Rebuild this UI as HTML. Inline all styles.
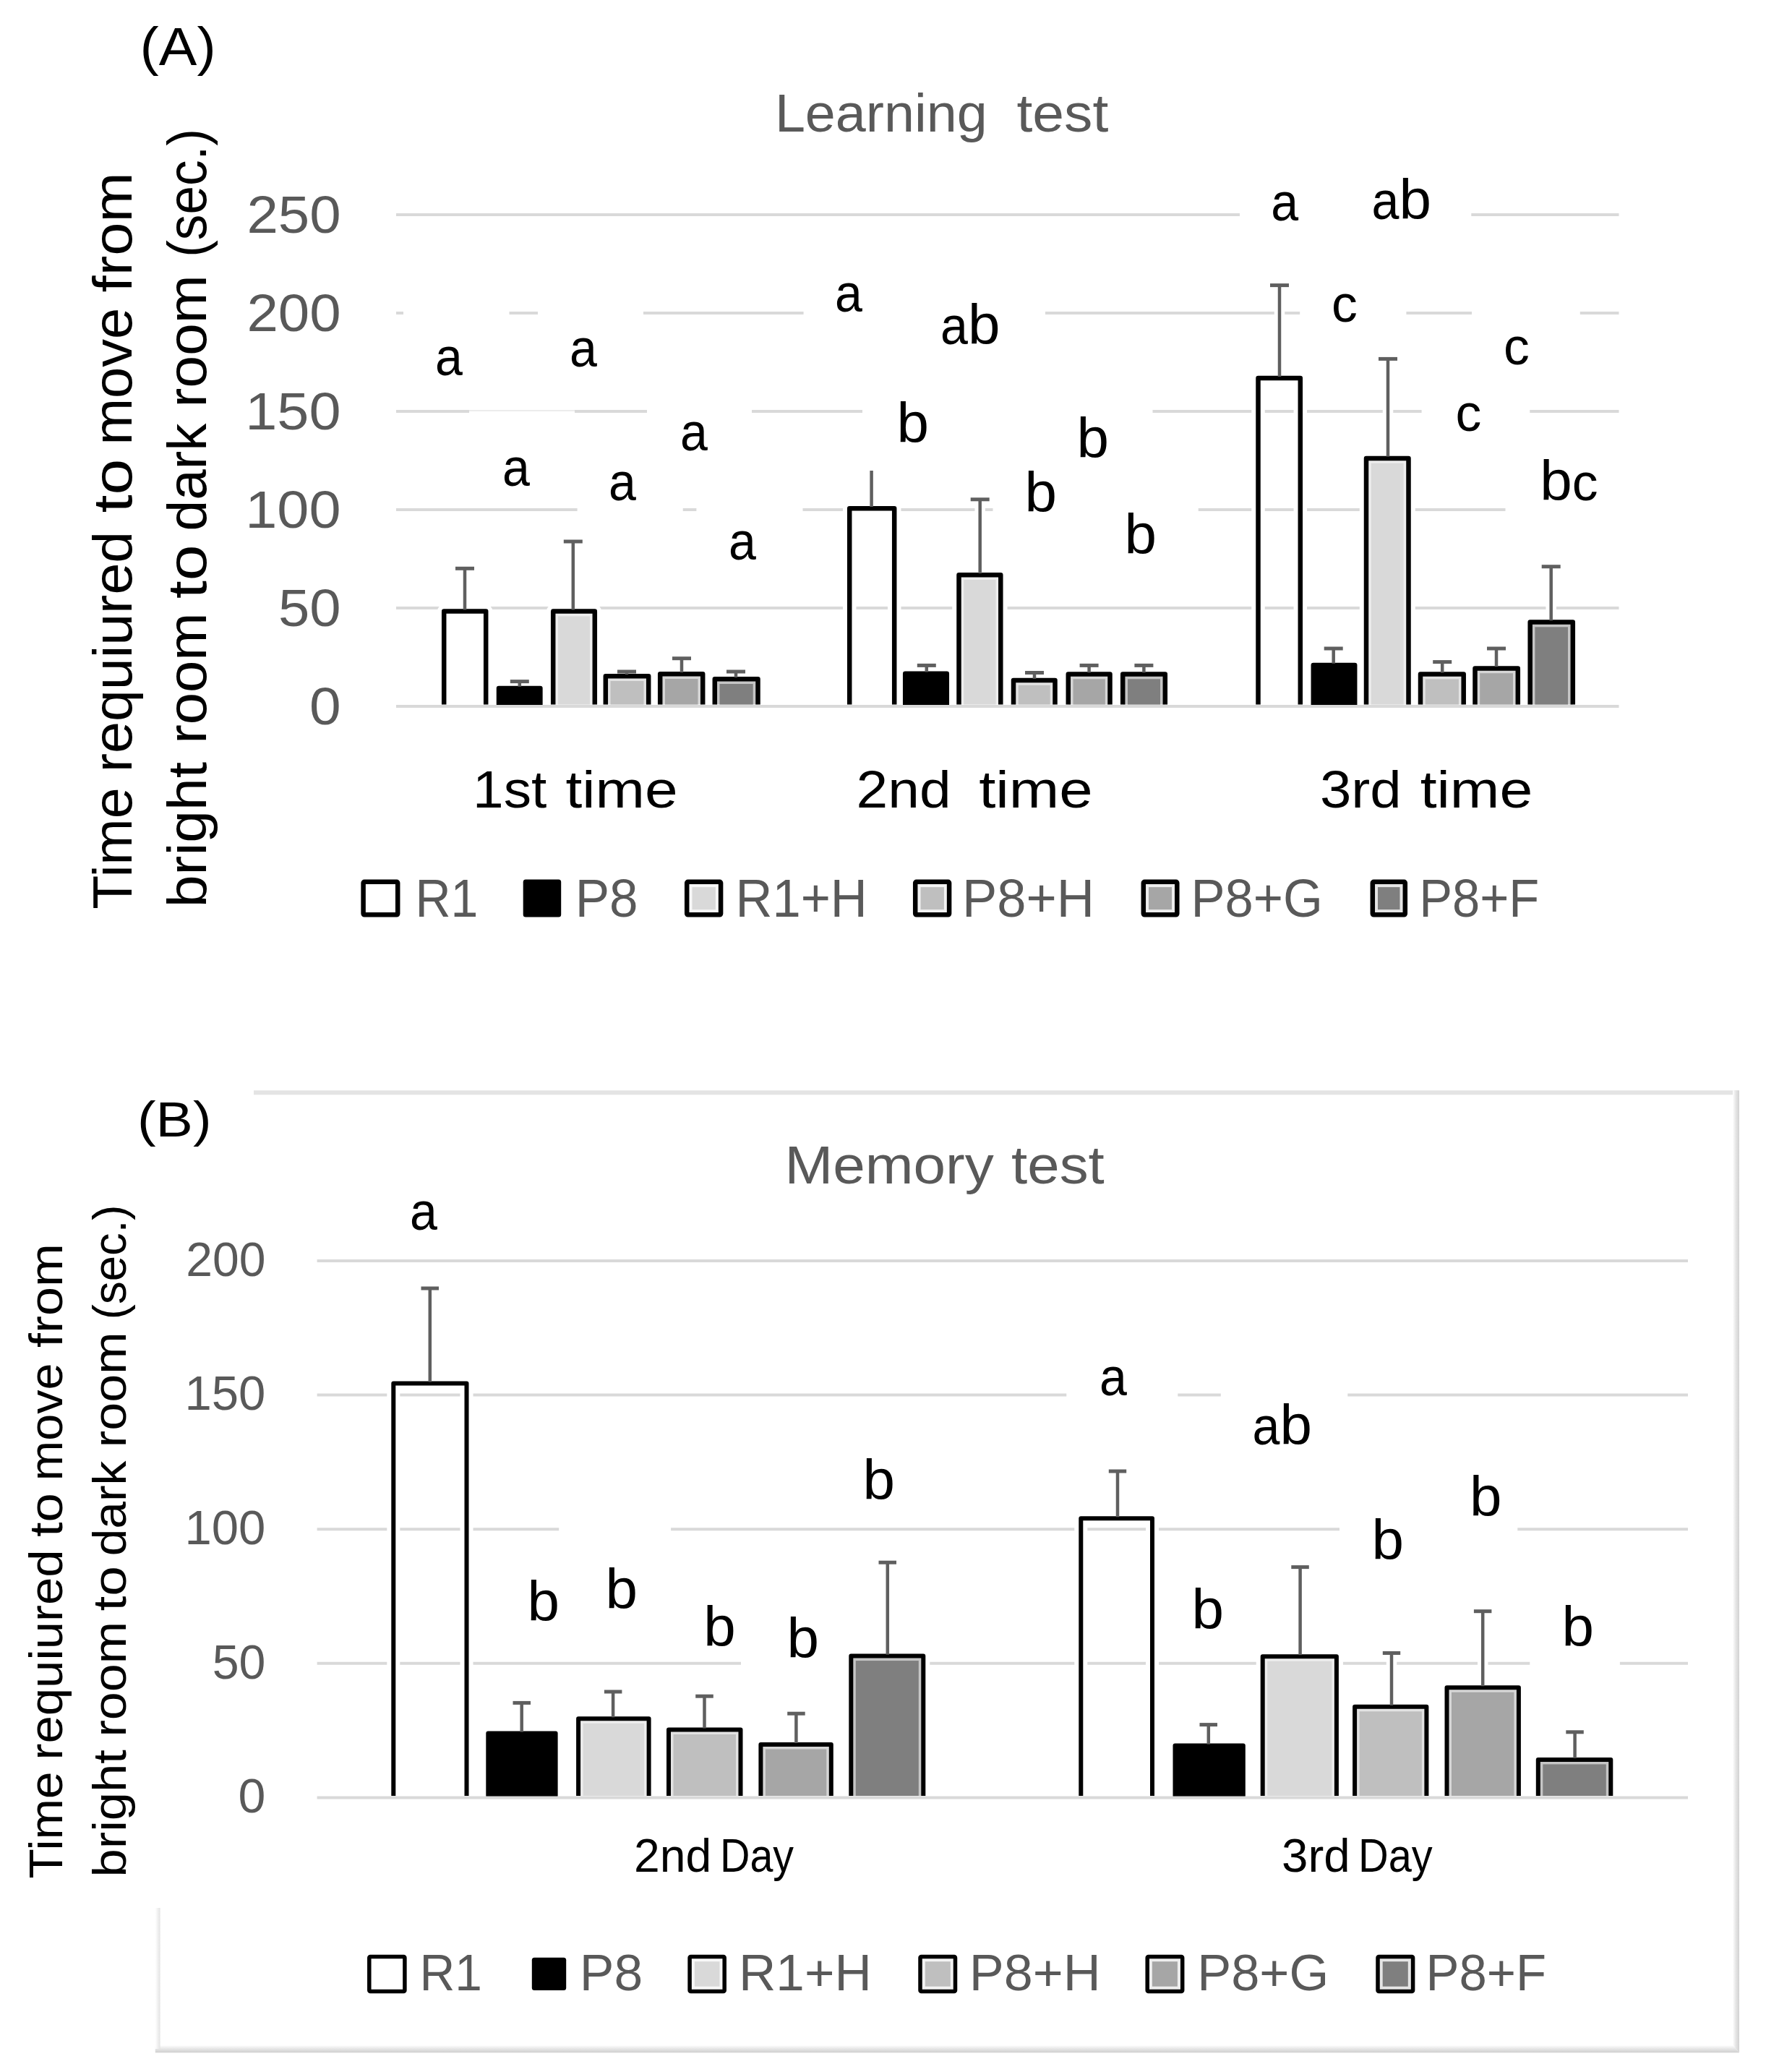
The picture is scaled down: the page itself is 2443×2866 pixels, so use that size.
<!DOCTYPE html>
<html lang="en"><head><meta charset="utf-8"><title>Learning test and Memory test</title>
<style>
html,body{margin:0;padding:0;background:#fff;}
body{width:2443px;height:2866px;overflow:hidden;}
svg{display:block;}
svg text{font-family:"Liberation Sans", sans-serif;white-space:pre;}
</style></head><body>
<svg width="2443" height="2866" viewBox="0 0 2443 2866">
<rect width="2443" height="2866" fill="#fff"/>
<line x1="548.0" y1="297.0" x2="1715.0" y2="297.0" stroke="#d9d9d9" stroke-width="4"/>
<line x1="2035.3" y1="297.0" x2="2239.5" y2="297.0" stroke="#d9d9d9" stroke-width="4"/>
<line x1="548.0" y1="433.0" x2="558.0" y2="433.0" stroke="#d9d9d9" stroke-width="4"/>
<line x1="704.5" y1="433.0" x2="744.0" y2="433.0" stroke="#d9d9d9" stroke-width="4"/>
<line x1="890.0" y1="433.0" x2="1111.6" y2="433.0" stroke="#d9d9d9" stroke-width="4"/>
<line x1="1446.0" y1="433.0" x2="1798.2" y2="433.0" stroke="#d9d9d9" stroke-width="4"/>
<line x1="1945.4" y1="433.0" x2="2036.0" y2="433.0" stroke="#d9d9d9" stroke-width="4"/>
<line x1="2185.8" y1="433.0" x2="2239.5" y2="433.0" stroke="#d9d9d9" stroke-width="4"/>
<line x1="548.0" y1="569.0" x2="649.0" y2="569.0" stroke="#d9d9d9" stroke-width="4"/>
<line x1="795.0" y1="569.0" x2="895.0" y2="569.0" stroke="#d9d9d9" stroke-width="4"/>
<line x1="1040.0" y1="569.0" x2="1193.0" y2="569.0" stroke="#d9d9d9" stroke-width="4"/>
<line x1="1594.5" y1="569.0" x2="1966.6" y2="569.0" stroke="#d9d9d9" stroke-width="4"/>
<line x1="2116.3" y1="569.0" x2="2239.5" y2="569.0" stroke="#d9d9d9" stroke-width="4"/>
<line x1="548.0" y1="705.0" x2="798.6" y2="705.0" stroke="#d9d9d9" stroke-width="4"/>
<line x1="944.7" y1="705.0" x2="963.4" y2="705.0" stroke="#d9d9d9" stroke-width="4"/>
<line x1="1110.5" y1="705.0" x2="1373.5" y2="705.0" stroke="#d9d9d9" stroke-width="4"/>
<line x1="1657.7" y1="705.0" x2="2082.5" y2="705.0" stroke="#d9d9d9" stroke-width="4"/>
<line x1="548.0" y1="841.0" x2="2239.5" y2="841.0" stroke="#d9d9d9" stroke-width="4"/>
<line x1="649.0" y1="568.0" x2="795.0" y2="568.0" stroke="#ececec" stroke-width="2"/>
<path d="M614.2 974.5V845.6H672.2V974.5" fill="none" stroke="#fff" stroke-width="18.5" stroke-linejoin="round"/>
<path d="M690.0 974.5V952.0H747.4V974.5" fill="none" stroke="#fff" stroke-width="18.5" stroke-linejoin="round"/>
<path d="M765.2 974.5V845.6H822.8V974.5" fill="none" stroke="#fff" stroke-width="18.5" stroke-linejoin="round"/>
<path d="M837.8 974.5V935.2H897.2V974.5" fill="none" stroke="#fff" stroke-width="18.5" stroke-linejoin="round"/>
<path d="M913.2 974.5V932.2H972.2V974.5" fill="none" stroke="#fff" stroke-width="18.5" stroke-linejoin="round"/>
<path d="M988.8 974.5V939.2H1048.5V974.5" fill="none" stroke="#fff" stroke-width="18.5" stroke-linejoin="round"/>
<line x1="643.0" y1="781.3" x2="643.0" y2="842.4" stroke="#fff" stroke-width="14.5"/>
<line x1="625.0" y1="786.3" x2="661.0" y2="786.3" stroke="#fff" stroke-width="15"/>
<line x1="718.8" y1="937.6" x2="718.8" y2="948.7" stroke="#fff" stroke-width="14.5"/>
<line x1="700.8" y1="942.6" x2="736.8" y2="942.6" stroke="#fff" stroke-width="15"/>
<line x1="792.8" y1="744.0" x2="792.8" y2="842.4" stroke="#fff" stroke-width="14.5"/>
<line x1="774.8" y1="749.0" x2="810.8" y2="749.0" stroke="#fff" stroke-width="15"/>
<line x1="867.0" y1="924.0" x2="867.0" y2="932.0" stroke="#fff" stroke-width="14.5"/>
<line x1="849.0" y1="929.0" x2="885.0" y2="929.0" stroke="#fff" stroke-width="15"/>
<line x1="943.0" y1="905.7" x2="943.0" y2="929.0" stroke="#fff" stroke-width="14.5"/>
<line x1="925.0" y1="910.7" x2="961.0" y2="910.7" stroke="#fff" stroke-width="15"/>
<line x1="1018.0" y1="924.0" x2="1018.0" y2="936.0" stroke="#fff" stroke-width="14.5"/>
<line x1="1000.0" y1="929.0" x2="1036.0" y2="929.0" stroke="#fff" stroke-width="15"/>
<path d="M1175.2 974.5V703.2H1237.2V974.5" fill="none" stroke="#fff" stroke-width="18.5" stroke-linejoin="round"/>
<path d="M1252.2 974.5V931.8H1309.8V974.5" fill="none" stroke="#fff" stroke-width="18.5" stroke-linejoin="round"/>
<path d="M1326.5 974.5V795.2H1384.3V974.5" fill="none" stroke="#fff" stroke-width="18.5" stroke-linejoin="round"/>
<path d="M1402.0 974.5V941.0H1459.5V974.5" fill="none" stroke="#fff" stroke-width="18.5" stroke-linejoin="round"/>
<path d="M1477.8 974.5V932.5H1535.5V974.5" fill="none" stroke="#fff" stroke-width="18.5" stroke-linejoin="round"/>
<path d="M1553.2 974.5V932.5H1611.8V974.5" fill="none" stroke="#fff" stroke-width="18.5" stroke-linejoin="round"/>
<line x1="1205.6" y1="646.0" x2="1205.6" y2="700.0" stroke="#fff" stroke-width="14.5"/>
<line x1="1281.8" y1="915.4" x2="1281.8" y2="928.5" stroke="#fff" stroke-width="14.5"/>
<line x1="1263.8" y1="920.4" x2="1299.8" y2="920.4" stroke="#fff" stroke-width="15"/>
<line x1="1355.7" y1="685.8" x2="1355.7" y2="792.0" stroke="#fff" stroke-width="14.5"/>
<line x1="1337.7" y1="690.8" x2="1373.7" y2="690.8" stroke="#fff" stroke-width="15"/>
<line x1="1431.0" y1="925.5" x2="1431.0" y2="937.8" stroke="#fff" stroke-width="14.5"/>
<line x1="1413.0" y1="930.5" x2="1449.0" y2="930.5" stroke="#fff" stroke-width="15"/>
<line x1="1506.6" y1="915.4" x2="1506.6" y2="929.3" stroke="#fff" stroke-width="14.5"/>
<line x1="1488.6" y1="920.4" x2="1524.6" y2="920.4" stroke="#fff" stroke-width="15"/>
<line x1="1582.4" y1="915.4" x2="1582.4" y2="929.3" stroke="#fff" stroke-width="14.5"/>
<line x1="1564.4" y1="920.4" x2="1600.4" y2="920.4" stroke="#fff" stroke-width="15"/>
<path d="M1740.5 974.5V523.1H1798.8V974.5" fill="none" stroke="#fff" stroke-width="18.5" stroke-linejoin="round"/>
<path d="M1816.8 974.5V920.0H1874.2V974.5" fill="none" stroke="#fff" stroke-width="18.5" stroke-linejoin="round"/>
<path d="M1890.0 974.5V633.9H1948.5V974.5" fill="none" stroke="#fff" stroke-width="18.5" stroke-linejoin="round"/>
<path d="M1965.0 974.5V932.6H2024.7V974.5" fill="none" stroke="#fff" stroke-width="18.5" stroke-linejoin="round"/>
<path d="M2040.5 974.5V924.5H2099.8V974.5" fill="none" stroke="#fff" stroke-width="18.5" stroke-linejoin="round"/>
<path d="M2116.7 974.5V860.5H2175.8V974.5" fill="none" stroke="#fff" stroke-width="18.5" stroke-linejoin="round"/>
<line x1="1770.0" y1="389.6" x2="1770.0" y2="519.9" stroke="#fff" stroke-width="14.5"/>
<line x1="1752.0" y1="394.6" x2="1788.0" y2="394.6" stroke="#fff" stroke-width="15"/>
<line x1="1844.7" y1="892.0" x2="1844.7" y2="916.7" stroke="#fff" stroke-width="14.5"/>
<line x1="1826.7" y1="897.0" x2="1862.7" y2="897.0" stroke="#fff" stroke-width="15"/>
<line x1="1920.0" y1="491.4" x2="1920.0" y2="630.6" stroke="#fff" stroke-width="14.5"/>
<line x1="1902.0" y1="496.4" x2="1938.0" y2="496.4" stroke="#fff" stroke-width="15"/>
<line x1="1995.2" y1="910.6" x2="1995.2" y2="929.4" stroke="#fff" stroke-width="14.5"/>
<line x1="1977.2" y1="915.6" x2="2013.2" y2="915.6" stroke="#fff" stroke-width="15"/>
<line x1="2070.0" y1="892.0" x2="2070.0" y2="921.2" stroke="#fff" stroke-width="14.5"/>
<line x1="2052.0" y1="897.0" x2="2088.0" y2="897.0" stroke="#fff" stroke-width="15"/>
<line x1="2145.7" y1="778.7" x2="2145.7" y2="857.3" stroke="#fff" stroke-width="14.5"/>
<line x1="2127.7" y1="783.7" x2="2163.7" y2="783.7" stroke="#fff" stroke-width="15"/>
<path d="M614.2 974.5V845.6H672.2V974.5" fill="none" stroke="#000" stroke-width="6.5" stroke-linejoin="round"/>
<path d="M690.0 974.5V952.0H747.4V974.5Z" fill="#000" stroke="#000" stroke-width="6.5" stroke-linejoin="round"/>
<rect x="765.2" y="845.6" width="57.5" height="128.9" fill="#ededed"/>
<rect x="772.0" y="852.4" width="44.0" height="122.1" fill="#d9d9d9"/>
<path d="M765.2 974.5V845.6H822.8V974.5" fill="none" stroke="#000" stroke-width="6.5" stroke-linejoin="round"/>
<rect x="837.8" y="935.2" width="59.5" height="39.2" fill="#e2e2e2"/>
<rect x="844.5" y="942.0" width="46.0" height="32.5" fill="#bfbfbf"/>
<path d="M837.8 974.5V935.2H897.2V974.5" fill="none" stroke="#000" stroke-width="6.5" stroke-linejoin="round"/>
<rect x="913.2" y="932.2" width="59.0" height="42.2" fill="#d6d6d6"/>
<rect x="920.0" y="939.0" width="45.5" height="35.5" fill="#a6a6a6"/>
<path d="M913.2 974.5V932.2H972.2V974.5" fill="none" stroke="#000" stroke-width="6.5" stroke-linejoin="round"/>
<rect x="988.8" y="939.2" width="59.7" height="35.2" fill="#c5c5c5"/>
<rect x="995.5" y="946.0" width="46.2" height="28.5" fill="#7f7f7f"/>
<path d="M988.8 974.5V939.2H1048.5V974.5" fill="none" stroke="#000" stroke-width="6.5" stroke-linejoin="round"/>
<line x1="643.0" y1="786.3" x2="643.0" y2="843.4" stroke="#5f5f5f" stroke-width="4.5"/>
<line x1="630.0" y1="786.3" x2="656.0" y2="786.3" stroke="#5f5f5f" stroke-width="5"/>
<line x1="718.8" y1="942.6" x2="718.8" y2="949.7" stroke="#5f5f5f" stroke-width="4.5"/>
<line x1="705.8" y1="942.6" x2="731.8" y2="942.6" stroke="#5f5f5f" stroke-width="5"/>
<line x1="792.8" y1="749.0" x2="792.8" y2="843.4" stroke="#5f5f5f" stroke-width="4.5"/>
<line x1="779.8" y1="749.0" x2="805.8" y2="749.0" stroke="#5f5f5f" stroke-width="5"/>
<line x1="867.0" y1="929.0" x2="867.0" y2="933.0" stroke="#5f5f5f" stroke-width="4.5"/>
<line x1="854.0" y1="929.0" x2="880.0" y2="929.0" stroke="#5f5f5f" stroke-width="5"/>
<line x1="943.0" y1="910.7" x2="943.0" y2="930.0" stroke="#5f5f5f" stroke-width="4.5"/>
<line x1="930.0" y1="910.7" x2="956.0" y2="910.7" stroke="#5f5f5f" stroke-width="5"/>
<line x1="1018.0" y1="929.0" x2="1018.0" y2="937.0" stroke="#5f5f5f" stroke-width="4.5"/>
<line x1="1005.0" y1="929.0" x2="1031.0" y2="929.0" stroke="#5f5f5f" stroke-width="5"/>
<path d="M1175.2 974.5V703.2H1237.2V974.5" fill="none" stroke="#000" stroke-width="6.5" stroke-linejoin="round"/>
<path d="M1252.2 974.5V931.8H1309.8V974.5Z" fill="#000" stroke="#000" stroke-width="6.5" stroke-linejoin="round"/>
<rect x="1326.5" y="795.2" width="57.8" height="179.2" fill="#ededed"/>
<rect x="1333.3" y="802.0" width="44.3" height="172.5" fill="#d9d9d9"/>
<path d="M1326.5 974.5V795.2H1384.3V974.5" fill="none" stroke="#000" stroke-width="6.5" stroke-linejoin="round"/>
<rect x="1402.0" y="941.0" width="57.4" height="33.5" fill="#e2e2e2"/>
<rect x="1408.8" y="947.8" width="43.9" height="26.7" fill="#bfbfbf"/>
<path d="M1402.0 974.5V941.0H1459.5V974.5" fill="none" stroke="#000" stroke-width="6.5" stroke-linejoin="round"/>
<rect x="1477.8" y="932.5" width="57.8" height="42.0" fill="#d6d6d6"/>
<rect x="1484.5" y="939.3" width="44.3" height="35.2" fill="#a6a6a6"/>
<path d="M1477.8 974.5V932.5H1535.5V974.5" fill="none" stroke="#000" stroke-width="6.5" stroke-linejoin="round"/>
<rect x="1553.2" y="932.5" width="58.5" height="42.0" fill="#c5c5c5"/>
<rect x="1560.0" y="939.3" width="45.0" height="35.2" fill="#7f7f7f"/>
<path d="M1553.2 974.5V932.5H1611.8V974.5" fill="none" stroke="#000" stroke-width="6.5" stroke-linejoin="round"/>
<line x1="1205.6" y1="651.0" x2="1205.6" y2="701.0" stroke="#5f5f5f" stroke-width="4.5"/>
<line x1="1281.8" y1="920.4" x2="1281.8" y2="929.5" stroke="#5f5f5f" stroke-width="4.5"/>
<line x1="1268.8" y1="920.4" x2="1294.8" y2="920.4" stroke="#5f5f5f" stroke-width="5"/>
<line x1="1355.7" y1="690.8" x2="1355.7" y2="793.0" stroke="#5f5f5f" stroke-width="4.5"/>
<line x1="1342.7" y1="690.8" x2="1368.7" y2="690.8" stroke="#5f5f5f" stroke-width="5"/>
<line x1="1431.0" y1="930.5" x2="1431.0" y2="938.8" stroke="#5f5f5f" stroke-width="4.5"/>
<line x1="1418.0" y1="930.5" x2="1444.0" y2="930.5" stroke="#5f5f5f" stroke-width="5"/>
<line x1="1506.6" y1="920.4" x2="1506.6" y2="930.3" stroke="#5f5f5f" stroke-width="4.5"/>
<line x1="1493.6" y1="920.4" x2="1519.6" y2="920.4" stroke="#5f5f5f" stroke-width="5"/>
<line x1="1582.4" y1="920.4" x2="1582.4" y2="930.3" stroke="#5f5f5f" stroke-width="4.5"/>
<line x1="1569.4" y1="920.4" x2="1595.4" y2="920.4" stroke="#5f5f5f" stroke-width="5"/>
<path d="M1740.5 974.5V523.1H1798.8V974.5" fill="none" stroke="#000" stroke-width="6.5" stroke-linejoin="round"/>
<path d="M1816.8 974.5V920.0H1874.2V974.5Z" fill="#000" stroke="#000" stroke-width="6.5" stroke-linejoin="round"/>
<rect x="1890.0" y="633.9" width="58.5" height="340.6" fill="#ededed"/>
<rect x="1896.7" y="640.6" width="45.0" height="333.9" fill="#d9d9d9"/>
<path d="M1890.0 974.5V633.9H1948.5V974.5" fill="none" stroke="#000" stroke-width="6.5" stroke-linejoin="round"/>
<rect x="1965.0" y="932.6" width="59.7" height="41.9" fill="#e2e2e2"/>
<rect x="1971.7" y="939.4" width="46.2" height="35.1" fill="#bfbfbf"/>
<path d="M1965.0 974.5V932.6H2024.7V974.5" fill="none" stroke="#000" stroke-width="6.5" stroke-linejoin="round"/>
<rect x="2040.5" y="924.5" width="59.3" height="50.0" fill="#d6d6d6"/>
<rect x="2047.2" y="931.2" width="45.8" height="43.3" fill="#a6a6a6"/>
<path d="M2040.5 974.5V924.5H2099.8V974.5" fill="none" stroke="#000" stroke-width="6.5" stroke-linejoin="round"/>
<rect x="2116.7" y="860.5" width="59.1" height="114.0" fill="#c5c5c5"/>
<rect x="2123.4" y="867.3" width="45.6" height="107.2" fill="#7f7f7f"/>
<path d="M2116.7 974.5V860.5H2175.8V974.5" fill="none" stroke="#000" stroke-width="6.5" stroke-linejoin="round"/>
<line x1="1770.0" y1="394.6" x2="1770.0" y2="520.9" stroke="#5f5f5f" stroke-width="4.5"/>
<line x1="1757.0" y1="394.6" x2="1783.0" y2="394.6" stroke="#5f5f5f" stroke-width="5"/>
<line x1="1844.7" y1="897.0" x2="1844.7" y2="917.7" stroke="#5f5f5f" stroke-width="4.5"/>
<line x1="1831.7" y1="897.0" x2="1857.7" y2="897.0" stroke="#5f5f5f" stroke-width="5"/>
<line x1="1920.0" y1="496.4" x2="1920.0" y2="631.6" stroke="#5f5f5f" stroke-width="4.5"/>
<line x1="1907.0" y1="496.4" x2="1933.0" y2="496.4" stroke="#5f5f5f" stroke-width="5"/>
<line x1="1995.2" y1="915.6" x2="1995.2" y2="930.4" stroke="#5f5f5f" stroke-width="4.5"/>
<line x1="1982.2" y1="915.6" x2="2008.2" y2="915.6" stroke="#5f5f5f" stroke-width="5"/>
<line x1="2070.0" y1="897.0" x2="2070.0" y2="922.2" stroke="#5f5f5f" stroke-width="4.5"/>
<line x1="2057.0" y1="897.0" x2="2083.0" y2="897.0" stroke="#5f5f5f" stroke-width="5"/>
<line x1="2145.7" y1="783.7" x2="2145.7" y2="858.3" stroke="#5f5f5f" stroke-width="4.5"/>
<line x1="2132.7" y1="783.7" x2="2158.7" y2="783.7" stroke="#5f5f5f" stroke-width="5"/>
<line x1="548.0" y1="977.0" x2="2239.5" y2="977.0" stroke="#d9d9d9" stroke-width="4"/>
<text x="601.9" y="518.9" font-size="74" fill="#000" textLength="37.9" lengthAdjust="spacingAndGlyphs">a</text>
<text x="787.9" y="507.0" font-size="74" fill="#000" textLength="37.9" lengthAdjust="spacingAndGlyphs">a</text>
<text x="694.9" y="671.8" font-size="74" fill="#000" textLength="37.9" lengthAdjust="spacingAndGlyphs">a</text>
<text x="841.9" y="691.5" font-size="74" fill="#000" textLength="37.9" lengthAdjust="spacingAndGlyphs">a</text>
<text x="940.9" y="622.5" font-size="74" fill="#000" textLength="37.9" lengthAdjust="spacingAndGlyphs">a</text>
<text x="1007.9" y="773.7" font-size="74" fill="#000" textLength="37.9" lengthAdjust="spacingAndGlyphs">a</text>
<text x="1154.9" y="430.7" font-size="74" fill="#000" textLength="37.9" lengthAdjust="spacingAndGlyphs">a</text>
<text x="1301.1" y="476.0" font-size="74" fill="#000" textLength="37.9" lengthAdjust="spacingAndGlyphs">a</text>
<text x="1339.0" y="476.0" font-size="77" fill="#000" textLength="44.5" lengthAdjust="spacingAndGlyphs">b</text>
<text x="1240.5" y="611.6" font-size="77" fill="#000" textLength="44.5" lengthAdjust="spacingAndGlyphs">b</text>
<text x="1489.5" y="632.5" font-size="77" fill="#000" textLength="44.5" lengthAdjust="spacingAndGlyphs">b</text>
<text x="1417.5" y="708.3" font-size="77" fill="#000" textLength="44.5" lengthAdjust="spacingAndGlyphs">b</text>
<text x="1555.5" y="766.2" font-size="77" fill="#000" textLength="44.5" lengthAdjust="spacingAndGlyphs">b</text>
<text x="1758.3" y="305.4" font-size="74" fill="#000" textLength="37.9" lengthAdjust="spacingAndGlyphs">a</text>
<text x="1897.6" y="302.5" font-size="74" fill="#000" textLength="37.9" lengthAdjust="spacingAndGlyphs">a</text>
<text x="1935.5" y="302.5" font-size="77" fill="#000" textLength="44.5" lengthAdjust="spacingAndGlyphs">b</text>
<text x="1841.9" y="444.8" font-size="73" fill="#000" textLength="35.8" lengthAdjust="spacingAndGlyphs">c</text>
<text x="2079.9" y="504.2" font-size="73" fill="#000" textLength="35.8" lengthAdjust="spacingAndGlyphs">c</text>
<text x="2013.4" y="596.0" font-size="73" fill="#000" textLength="35.8" lengthAdjust="spacingAndGlyphs">c</text>
<text x="2130.2" y="692.0" font-size="77" fill="#000" textLength="44.5" lengthAdjust="spacingAndGlyphs">b</text>
<text x="2174.7" y="692.0" font-size="73" fill="#000" textLength="35.8" lengthAdjust="spacingAndGlyphs">c</text>
<text x="193.6" y="89.6" font-size="74" fill="#000" textLength="105.1" lengthAdjust="spacingAndGlyphs">(A)</text>
<text x="1071.9" y="182.0" font-size="74" fill="#595959" textLength="293.8" lengthAdjust="spacingAndGlyphs">Learning</text>
<text x="1406.5" y="182.0" font-size="74" fill="#595959" textLength="126.8" lengthAdjust="spacingAndGlyphs">test</text>
<text x="428.0" y="1002.4" font-size="72" fill="#595959" textLength="43.7" lengthAdjust="spacingAndGlyphs">0</text>
<text x="385.0" y="866.4" font-size="72" fill="#595959" textLength="86.7" lengthAdjust="spacingAndGlyphs">50</text>
<text x="339.2" y="730.4" font-size="72" fill="#595959" textLength="132.4" lengthAdjust="spacingAndGlyphs">100</text>
<text x="339.2" y="594.4" font-size="72" fill="#595959" textLength="132.4" lengthAdjust="spacingAndGlyphs">150</text>
<text x="341.4" y="458.4" font-size="72" fill="#595959" textLength="130.2" lengthAdjust="spacingAndGlyphs">200</text>
<text x="341.4" y="322.4" font-size="72" fill="#595959" textLength="130.2" lengthAdjust="spacingAndGlyphs">250</text>
<text x="182.0" y="1257.8" font-size="76" fill="#000" textLength="168.3" lengthAdjust="spacingAndGlyphs" transform="rotate(-90 182.0 1257.8)">Time</text>
<text x="182.0" y="1068.3" font-size="76" fill="#000" textLength="333.5" lengthAdjust="spacingAndGlyphs" transform="rotate(-90 182.0 1068.3)">requiured</text>
<text x="182.0" y="709.3" font-size="76" fill="#000" textLength="74.5" lengthAdjust="spacingAndGlyphs" transform="rotate(-90 182.0 709.3)">to</text>
<text x="182.0" y="615.6" font-size="76" fill="#000" textLength="189.7" lengthAdjust="spacingAndGlyphs" transform="rotate(-90 182.0 615.6)">move</text>
<text x="182.0" y="404.4" font-size="76" fill="#000" textLength="165.9" lengthAdjust="spacingAndGlyphs" transform="rotate(-90 182.0 404.4)">from</text>
<text x="285.0" y="1255.2" font-size="76" fill="#000" textLength="201.4" lengthAdjust="spacingAndGlyphs" transform="rotate(-90 285.0 1255.2)">bright</text>
<text x="285.0" y="1028.8" font-size="76" fill="#000" textLength="181.4" lengthAdjust="spacingAndGlyphs" transform="rotate(-90 285.0 1028.8)">room</text>
<text x="285.0" y="828.0" font-size="76" fill="#000" textLength="74.5" lengthAdjust="spacingAndGlyphs" transform="rotate(-90 285.0 828.0)">to</text>
<text x="285.0" y="734.4" font-size="76" fill="#000" textLength="148.8" lengthAdjust="spacingAndGlyphs" transform="rotate(-90 285.0 734.4)">dark</text>
<text x="285.0" y="563.6" font-size="76" fill="#000" textLength="183.4" lengthAdjust="spacingAndGlyphs" transform="rotate(-90 285.0 563.6)">room</text>
<text x="285.0" y="355.8" font-size="76" fill="#000" textLength="177.6" lengthAdjust="spacingAndGlyphs" transform="rotate(-90 285.0 355.8)">(sec.)</text>
<text x="654.1" y="1117.0" font-size="72" fill="#000" textLength="102.2" lengthAdjust="spacingAndGlyphs">1st</text>
<text x="782.5" y="1117.0" font-size="72" fill="#000" textLength="155.2" lengthAdjust="spacingAndGlyphs">time</text>
<text x="1184.6" y="1117.0" font-size="72" fill="#000" textLength="131.1" lengthAdjust="spacingAndGlyphs">2nd</text>
<text x="1354.2" y="1117.0" font-size="72" fill="#000" textLength="157.5" lengthAdjust="spacingAndGlyphs">time</text>
<text x="1826.0" y="1117.0" font-size="72" fill="#000" textLength="112.7" lengthAdjust="spacingAndGlyphs">3rd</text>
<text x="1964.7" y="1117.0" font-size="72" fill="#000" textLength="155.6" lengthAdjust="spacingAndGlyphs">time</text>
<rect x="502.6" y="1219.8" width="47.6" height="45.5" rx="1.5" fill="#fff" stroke="#000" stroke-width="6.5" stroke-linejoin="round"/>
<rect x="723.7" y="1216.6" width="52.5" height="52.0" rx="3.5" fill="#000"/>
<rect x="950.2" y="1219.8" width="46.9" height="45.5" rx="1.5" fill="#f7f7f7" stroke="#000" stroke-width="6.5" stroke-linejoin="round"/>
<rect x="957.5" y="1227.1" width="32.4" height="31.0" fill="#d9d9d9"/>
<rect x="1266.2" y="1219.8" width="46.9" height="45.5" rx="1.5" fill="#f2f2f2" stroke="#000" stroke-width="6.5" stroke-linejoin="round"/>
<rect x="1273.5" y="1227.1" width="32.4" height="31.0" fill="#bfbfbf"/>
<rect x="1581.8" y="1219.8" width="46.5" height="45.5" rx="1.5" fill="#ededed" stroke="#000" stroke-width="6.5" stroke-linejoin="round"/>
<rect x="1589.0" y="1227.1" width="32.0" height="31.0" fill="#a6a6a6"/>
<rect x="1898.8" y="1219.8" width="45.0" height="45.5" rx="1.5" fill="#e5e5e5" stroke="#000" stroke-width="6.5" stroke-linejoin="round"/>
<rect x="1906.0" y="1227.1" width="30.5" height="31.0" fill="#7f7f7f"/>
<text x="574.4" y="1267.7" font-size="74" fill="#595959" textLength="86.9" lengthAdjust="spacingAndGlyphs">R1</text>
<text x="795.7" y="1267.7" font-size="74" fill="#595959" textLength="86.9" lengthAdjust="spacingAndGlyphs">P8</text>
<text x="1017.5" y="1267.7" font-size="74" fill="#595959" textLength="182.3" lengthAdjust="spacingAndGlyphs">R1+H</text>
<text x="1330.9" y="1267.7" font-size="74" fill="#595959" textLength="183.0" lengthAdjust="spacingAndGlyphs">P8+H</text>
<text x="1647.5" y="1267.7" font-size="74" fill="#595959" textLength="182.3" lengthAdjust="spacingAndGlyphs">P8+G</text>
<text x="1963.3" y="1267.7" font-size="74" fill="#595959" textLength="166.0" lengthAdjust="spacingAndGlyphs">P8+F</text>
<defs><linearGradient id="gh" x1="0" y1="0" x2="1" y2="0"><stop offset="0" stop-color="#ffffff"/><stop offset="0.45" stop-color="#e6e6e6"/><stop offset="1" stop-color="#d2d2d2"/></linearGradient><linearGradient id="ghl" x1="0" y1="0" x2="1" y2="0"><stop offset="0" stop-color="#ffffff"/><stop offset="0.5" stop-color="#f1f1f1"/><stop offset="1" stop-color="#e3e3e3"/></linearGradient><linearGradient id="gv" x1="0" y1="0" x2="0" y2="1"><stop offset="0" stop-color="#ffffff"/><stop offset="0.45" stop-color="#e8e8e8"/><stop offset="1" stop-color="#cfcfcf"/></linearGradient></defs>
<line x1="351.0" y1="1511.2" x2="2405.5" y2="1511.2" stroke="#e4e4e4" stroke-width="6"/>
<polygon points="2397,1508.2 2406,1508.2 2406,2839.2 2397,2829" fill="url(#gh)"/>
<polygon points="214.8,2829 2397,2829 2406,2839.2 214.8,2839.2" fill="url(#gv)"/>
<rect x="214.8" y="2639" width="6.8" height="195" fill="url(#ghl)"/>
<line x1="438.6" y1="1744.0" x2="2335.0" y2="1744.0" stroke="#d9d9d9" stroke-width="4"/>
<line x1="438.6" y1="1929.6" x2="1475.3" y2="1929.6" stroke="#d9d9d9" stroke-width="4"/>
<line x1="1629.3" y1="1929.6" x2="1688.8" y2="1929.6" stroke="#d9d9d9" stroke-width="4"/>
<line x1="1864.3" y1="1929.6" x2="2335.0" y2="1929.6" stroke="#d9d9d9" stroke-width="4"/>
<line x1="438.6" y1="2115.2" x2="773.2" y2="2115.2" stroke="#d9d9d9" stroke-width="4"/>
<line x1="928.1" y1="2115.2" x2="1853.0" y2="2115.2" stroke="#d9d9d9" stroke-width="4"/>
<line x1="2099.3" y1="2115.2" x2="2335.0" y2="2115.2" stroke="#d9d9d9" stroke-width="4"/>
<line x1="438.6" y1="2300.7" x2="1025.0" y2="2300.7" stroke="#d9d9d9" stroke-width="4"/>
<line x1="1174.0" y1="2300.7" x2="2116.3" y2="2300.7" stroke="#d9d9d9" stroke-width="4"/>
<line x1="2240.9" y1="2300.7" x2="2335.0" y2="2300.7" stroke="#d9d9d9" stroke-width="4"/>
<path d="M544.3 2484.0V1913.5H645.5V2484.0" fill="none" stroke="#fff" stroke-width="18" stroke-linejoin="round"/>
<path d="M675.3 2484.0V2397.6H768.6V2484.0" fill="none" stroke="#fff" stroke-width="18" stroke-linejoin="round"/>
<path d="M800.1 2484.0V2377.3H897.6V2484.0" fill="none" stroke="#fff" stroke-width="18" stroke-linejoin="round"/>
<path d="M925.0 2484.0V2392.5H1024.5V2484.0" fill="none" stroke="#fff" stroke-width="18" stroke-linejoin="round"/>
<path d="M1052.4 2484.0V2413.0H1149.8V2484.0" fill="none" stroke="#fff" stroke-width="18" stroke-linejoin="round"/>
<path d="M1177.3 2484.0V2290.6H1277.3V2484.0" fill="none" stroke="#fff" stroke-width="18" stroke-linejoin="round"/>
<line x1="594.8" y1="1777.0" x2="594.8" y2="1910.5" stroke="#fff" stroke-width="14.5"/>
<line x1="577.5" y1="1782.0" x2="612.0" y2="1782.0" stroke="#fff" stroke-width="15"/>
<line x1="721.7" y1="2350.4" x2="721.7" y2="2394.6" stroke="#fff" stroke-width="14.5"/>
<line x1="704.5" y1="2355.4" x2="739.0" y2="2355.4" stroke="#fff" stroke-width="15"/>
<line x1="848.1" y1="2335.0" x2="848.1" y2="2374.3" stroke="#fff" stroke-width="14.5"/>
<line x1="830.9" y1="2340.0" x2="865.4" y2="2340.0" stroke="#fff" stroke-width="15"/>
<line x1="974.5" y1="2341.2" x2="974.5" y2="2389.5" stroke="#fff" stroke-width="14.5"/>
<line x1="957.2" y1="2346.2" x2="991.8" y2="2346.2" stroke="#fff" stroke-width="15"/>
<line x1="1101.4" y1="2365.2" x2="1101.4" y2="2410.0" stroke="#fff" stroke-width="14.5"/>
<line x1="1084.2" y1="2370.2" x2="1118.7" y2="2370.2" stroke="#fff" stroke-width="15"/>
<line x1="1227.8" y1="2156.2" x2="1227.8" y2="2287.6" stroke="#fff" stroke-width="14.5"/>
<line x1="1210.5" y1="2161.2" x2="1245.0" y2="2161.2" stroke="#fff" stroke-width="15"/>
<path d="M1495.3 2484.0V2100.3H1594.0V2484.0" fill="none" stroke="#fff" stroke-width="18" stroke-linejoin="round"/>
<path d="M1625.5 2484.0V2414.6H1719.8V2484.0" fill="none" stroke="#fff" stroke-width="18" stroke-linejoin="round"/>
<path d="M1746.7 2484.0V2291.2H1848.9V2484.0" fill="none" stroke="#fff" stroke-width="18" stroke-linejoin="round"/>
<path d="M1874.1 2484.0V2360.8H1973.4V2484.0" fill="none" stroke="#fff" stroke-width="18" stroke-linejoin="round"/>
<path d="M2001.5 2484.0V2334.2H2100.9V2484.0" fill="none" stroke="#fff" stroke-width="18" stroke-linejoin="round"/>
<path d="M2127.8 2484.0V2433.9H2228.3V2484.0" fill="none" stroke="#fff" stroke-width="18" stroke-linejoin="round"/>
<line x1="1546.0" y1="2030.0" x2="1546.0" y2="2097.3" stroke="#fff" stroke-width="14.5"/>
<line x1="1528.8" y1="2035.0" x2="1563.2" y2="2035.0" stroke="#fff" stroke-width="15"/>
<line x1="1671.8" y1="2380.6" x2="1671.8" y2="2411.6" stroke="#fff" stroke-width="14.5"/>
<line x1="1654.5" y1="2385.6" x2="1689.0" y2="2385.6" stroke="#fff" stroke-width="15"/>
<line x1="1798.6" y1="2162.6" x2="1798.6" y2="2288.2" stroke="#fff" stroke-width="14.5"/>
<line x1="1781.3" y1="2167.6" x2="1815.8" y2="2167.6" stroke="#fff" stroke-width="15"/>
<line x1="1925.0" y1="2281.5" x2="1925.0" y2="2357.8" stroke="#fff" stroke-width="14.5"/>
<line x1="1907.8" y1="2286.5" x2="1942.2" y2="2286.5" stroke="#fff" stroke-width="15"/>
<line x1="2051.2" y1="2223.7" x2="2051.2" y2="2331.2" stroke="#fff" stroke-width="14.5"/>
<line x1="2033.9" y1="2228.7" x2="2068.4" y2="2228.7" stroke="#fff" stroke-width="15"/>
<line x1="2178.6" y1="2390.8" x2="2178.6" y2="2430.9" stroke="#fff" stroke-width="14.5"/>
<line x1="2161.3" y1="2395.8" x2="2195.8" y2="2395.8" stroke="#fff" stroke-width="15"/>
<path d="M544.3 2484.0V1913.5H645.5V2484.0" fill="none" stroke="#000" stroke-width="6" stroke-linejoin="round"/>
<path d="M675.3 2484.0V2397.6H768.6V2484.0Z" fill="#000" stroke="#000" stroke-width="6" stroke-linejoin="round"/>
<rect x="800.1" y="2377.3" width="97.5" height="106.7" fill="#ededed"/>
<rect x="806.6" y="2383.8" width="84.5" height="100.2" fill="#d9d9d9"/>
<path d="M800.1 2484.0V2377.3H897.6V2484.0" fill="none" stroke="#000" stroke-width="6" stroke-linejoin="round"/>
<rect x="925.0" y="2392.5" width="99.5" height="91.5" fill="#e2e2e2"/>
<rect x="931.5" y="2399.0" width="86.5" height="85.0" fill="#bfbfbf"/>
<path d="M925.0 2484.0V2392.5H1024.5V2484.0" fill="none" stroke="#000" stroke-width="6" stroke-linejoin="round"/>
<rect x="1052.4" y="2413.0" width="97.4" height="71.0" fill="#d6d6d6"/>
<rect x="1058.9" y="2419.5" width="84.4" height="64.5" fill="#a6a6a6"/>
<path d="M1052.4 2484.0V2413.0H1149.8V2484.0" fill="none" stroke="#000" stroke-width="6" stroke-linejoin="round"/>
<rect x="1177.3" y="2290.6" width="100.0" height="193.4" fill="#c5c5c5"/>
<rect x="1183.8" y="2297.1" width="87.0" height="186.9" fill="#7f7f7f"/>
<path d="M1177.3 2484.0V2290.6H1277.3V2484.0" fill="none" stroke="#000" stroke-width="6" stroke-linejoin="round"/>
<line x1="594.8" y1="1782.0" x2="594.8" y2="1911.5" stroke="#5f5f5f" stroke-width="4.5"/>
<line x1="582.5" y1="1782.0" x2="607.0" y2="1782.0" stroke="#5f5f5f" stroke-width="5"/>
<line x1="721.7" y1="2355.4" x2="721.7" y2="2395.6" stroke="#5f5f5f" stroke-width="4.5"/>
<line x1="709.5" y1="2355.4" x2="734.0" y2="2355.4" stroke="#5f5f5f" stroke-width="5"/>
<line x1="848.1" y1="2340.0" x2="848.1" y2="2375.3" stroke="#5f5f5f" stroke-width="4.5"/>
<line x1="835.9" y1="2340.0" x2="860.4" y2="2340.0" stroke="#5f5f5f" stroke-width="5"/>
<line x1="974.5" y1="2346.2" x2="974.5" y2="2390.5" stroke="#5f5f5f" stroke-width="4.5"/>
<line x1="962.2" y1="2346.2" x2="986.8" y2="2346.2" stroke="#5f5f5f" stroke-width="5"/>
<line x1="1101.4" y1="2370.2" x2="1101.4" y2="2411.0" stroke="#5f5f5f" stroke-width="4.5"/>
<line x1="1089.2" y1="2370.2" x2="1113.7" y2="2370.2" stroke="#5f5f5f" stroke-width="5"/>
<line x1="1227.8" y1="2161.2" x2="1227.8" y2="2288.6" stroke="#5f5f5f" stroke-width="4.5"/>
<line x1="1215.5" y1="2161.2" x2="1240.0" y2="2161.2" stroke="#5f5f5f" stroke-width="5"/>
<path d="M1495.3 2484.0V2100.3H1594.0V2484.0" fill="none" stroke="#000" stroke-width="6" stroke-linejoin="round"/>
<path d="M1625.5 2484.0V2414.6H1719.8V2484.0Z" fill="#000" stroke="#000" stroke-width="6" stroke-linejoin="round"/>
<rect x="1746.7" y="2291.2" width="102.2" height="192.8" fill="#ededed"/>
<rect x="1753.2" y="2297.7" width="89.2" height="186.3" fill="#d9d9d9"/>
<path d="M1746.7 2484.0V2291.2H1848.9V2484.0" fill="none" stroke="#000" stroke-width="6" stroke-linejoin="round"/>
<rect x="1874.1" y="2360.8" width="99.3" height="123.2" fill="#e2e2e2"/>
<rect x="1880.6" y="2367.3" width="86.3" height="116.7" fill="#bfbfbf"/>
<path d="M1874.1 2484.0V2360.8H1973.4V2484.0" fill="none" stroke="#000" stroke-width="6" stroke-linejoin="round"/>
<rect x="2001.5" y="2334.2" width="99.4" height="149.8" fill="#d6d6d6"/>
<rect x="2008.0" y="2340.7" width="86.4" height="143.3" fill="#a6a6a6"/>
<path d="M2001.5 2484.0V2334.2H2100.9V2484.0" fill="none" stroke="#000" stroke-width="6" stroke-linejoin="round"/>
<rect x="2127.8" y="2433.9" width="100.5" height="50.1" fill="#c5c5c5"/>
<rect x="2134.3" y="2440.4" width="87.5" height="43.6" fill="#7f7f7f"/>
<path d="M2127.8 2484.0V2433.9H2228.3V2484.0" fill="none" stroke="#000" stroke-width="6" stroke-linejoin="round"/>
<line x1="1546.0" y1="2035.0" x2="1546.0" y2="2098.3" stroke="#5f5f5f" stroke-width="4.5"/>
<line x1="1533.8" y1="2035.0" x2="1558.2" y2="2035.0" stroke="#5f5f5f" stroke-width="5"/>
<line x1="1671.8" y1="2385.6" x2="1671.8" y2="2412.6" stroke="#5f5f5f" stroke-width="4.5"/>
<line x1="1659.5" y1="2385.6" x2="1684.0" y2="2385.6" stroke="#5f5f5f" stroke-width="5"/>
<line x1="1798.6" y1="2167.6" x2="1798.6" y2="2289.2" stroke="#5f5f5f" stroke-width="4.5"/>
<line x1="1786.3" y1="2167.6" x2="1810.8" y2="2167.6" stroke="#5f5f5f" stroke-width="5"/>
<line x1="1925.0" y1="2286.5" x2="1925.0" y2="2358.8" stroke="#5f5f5f" stroke-width="4.5"/>
<line x1="1912.8" y1="2286.5" x2="1937.2" y2="2286.5" stroke="#5f5f5f" stroke-width="5"/>
<line x1="2051.2" y1="2228.7" x2="2051.2" y2="2332.2" stroke="#5f5f5f" stroke-width="4.5"/>
<line x1="2038.9" y1="2228.7" x2="2063.4" y2="2228.7" stroke="#5f5f5f" stroke-width="5"/>
<line x1="2178.6" y1="2395.8" x2="2178.6" y2="2431.9" stroke="#5f5f5f" stroke-width="4.5"/>
<line x1="2166.3" y1="2395.8" x2="2190.8" y2="2395.8" stroke="#5f5f5f" stroke-width="5"/>
<line x1="438.6" y1="2486.5" x2="2335.0" y2="2486.5" stroke="#d9d9d9" stroke-width="4"/>
<text x="566.9" y="1700.5" font-size="74" fill="#000" textLength="37.9" lengthAdjust="spacingAndGlyphs">a</text>
<text x="729.5" y="2241.8" font-size="77" fill="#000" textLength="44.5" lengthAdjust="spacingAndGlyphs">b</text>
<text x="837.5" y="2225.0" font-size="77" fill="#000" textLength="44.5" lengthAdjust="spacingAndGlyphs">b</text>
<text x="973.2" y="2277.4" font-size="77" fill="#000" textLength="44.5" lengthAdjust="spacingAndGlyphs">b</text>
<text x="1088.5" y="2292.7" font-size="77" fill="#000" textLength="44.5" lengthAdjust="spacingAndGlyphs">b</text>
<text x="1193.5" y="2073.6" font-size="77" fill="#000" textLength="44.5" lengthAdjust="spacingAndGlyphs">b</text>
<text x="1520.9" y="1930.3" font-size="74" fill="#000" textLength="37.9" lengthAdjust="spacingAndGlyphs">a</text>
<text x="1732.6" y="1998.3" font-size="74" fill="#000" textLength="37.9" lengthAdjust="spacingAndGlyphs">a</text>
<text x="1770.5" y="1998.3" font-size="77" fill="#000" textLength="44.5" lengthAdjust="spacingAndGlyphs">b</text>
<text x="1648.5" y="2253.0" font-size="77" fill="#000" textLength="44.5" lengthAdjust="spacingAndGlyphs">b</text>
<text x="1897.5" y="2156.8" font-size="77" fill="#000" textLength="44.5" lengthAdjust="spacingAndGlyphs">b</text>
<text x="2033.1" y="2097.3" font-size="77" fill="#000" textLength="44.5" lengthAdjust="spacingAndGlyphs">b</text>
<text x="2160.5" y="2276.8" font-size="77" fill="#000" textLength="44.5" lengthAdjust="spacingAndGlyphs">b</text>
<text x="190.0" y="1572.0" font-size="68" fill="#000" textLength="102.5" lengthAdjust="spacingAndGlyphs">(B)</text>
<text x="1085.4" y="1636.6" font-size="74" fill="#595959" textLength="289.4" lengthAdjust="spacingAndGlyphs">Memory</text>
<text x="1399.1" y="1636.6" font-size="74" fill="#595959" textLength="128.7" lengthAdjust="spacingAndGlyphs">test</text>
<text x="329.6" y="2507.3" font-size="66" fill="#595959" textLength="37.9" lengthAdjust="spacingAndGlyphs">0</text>
<text x="293.7" y="2321.5" font-size="66" fill="#595959" textLength="73.7" lengthAdjust="spacingAndGlyphs">50</text>
<text x="255.5" y="2136.0" font-size="66" fill="#595959" textLength="111.9" lengthAdjust="spacingAndGlyphs">100</text>
<text x="255.5" y="1950.4" font-size="66" fill="#595959" textLength="111.9" lengthAdjust="spacingAndGlyphs">150</text>
<text x="257.2" y="1764.8" font-size="66" fill="#595959" textLength="110.2" lengthAdjust="spacingAndGlyphs">200</text>
<text x="86.3" y="2598.4" font-size="65" fill="#000" textLength="147.8" lengthAdjust="spacingAndGlyphs" transform="rotate(-90 86.3 2598.4)">Time</text>
<text x="86.3" y="2434.5" font-size="65" fill="#000" textLength="291.1" lengthAdjust="spacingAndGlyphs" transform="rotate(-90 86.3 2434.5)">requiured</text>
<text x="86.3" y="2125.8" font-size="65" fill="#000" textLength="60.6" lengthAdjust="spacingAndGlyphs" transform="rotate(-90 86.3 2125.8)">to</text>
<text x="86.3" y="2048.2" font-size="65" fill="#000" textLength="162.8" lengthAdjust="spacingAndGlyphs" transform="rotate(-90 86.3 2048.2)">move</text>
<text x="86.3" y="1863.9" font-size="65" fill="#000" textLength="143.9" lengthAdjust="spacingAndGlyphs" transform="rotate(-90 86.3 1863.9)">from</text>
<text x="173.8" y="2596.5" font-size="65" fill="#000" textLength="176.4" lengthAdjust="spacingAndGlyphs" transform="rotate(-90 173.8 2596.5)">bright</text>
<text x="173.8" y="2402.5" font-size="65" fill="#000" textLength="159.8" lengthAdjust="spacingAndGlyphs" transform="rotate(-90 173.8 2402.5)">room</text>
<text x="173.8" y="2228.6" font-size="65" fill="#000" textLength="62.5" lengthAdjust="spacingAndGlyphs" transform="rotate(-90 173.8 2228.6)">to</text>
<text x="173.8" y="2152.3" font-size="65" fill="#000" textLength="131.6" lengthAdjust="spacingAndGlyphs" transform="rotate(-90 173.8 2152.3)">dark</text>
<text x="173.8" y="2002.2" font-size="65" fill="#000" textLength="159.8" lengthAdjust="spacingAndGlyphs" transform="rotate(-90 173.8 2002.2)">room</text>
<text x="173.8" y="1825.2" font-size="65" fill="#000" textLength="158.6" lengthAdjust="spacingAndGlyphs" transform="rotate(-90 173.8 1825.2)">(sec.)</text>
<text x="877.1" y="2588.7" font-size="64" fill="#000" textLength="107.2" lengthAdjust="spacingAndGlyphs">2nd</text>
<text x="996.0" y="2588.7" font-size="64" fill="#000" textLength="102.0" lengthAdjust="spacingAndGlyphs">Day</text>
<text x="1773.0" y="2588.7" font-size="64" fill="#000" textLength="94.6" lengthAdjust="spacingAndGlyphs">3rd</text>
<text x="1879.0" y="2588.7" font-size="64" fill="#000" textLength="102.7" lengthAdjust="spacingAndGlyphs">Day</text>
<rect x="510.8" y="2706.4" width="49.1" height="48.0" rx="1.5" fill="#fff" stroke="#000" stroke-width="5.5" stroke-linejoin="round"/>
<rect x="735.8" y="2707.8" width="47.4" height="45.2" rx="3.5" fill="#000"/>
<rect x="954.1" y="2706.4" width="48.1" height="48.0" rx="1.5" fill="#f7f7f7" stroke="#000" stroke-width="5.5" stroke-linejoin="round"/>
<rect x="960.9" y="2713.2" width="34.6" height="34.5" fill="#d9d9d9"/>
<rect x="1273.0" y="2706.4" width="48.5" height="48.0" rx="1.5" fill="#f2f2f2" stroke="#000" stroke-width="5.5" stroke-linejoin="round"/>
<rect x="1279.8" y="2713.2" width="35.0" height="34.5" fill="#bfbfbf"/>
<rect x="1587.2" y="2706.4" width="48.5" height="48.0" rx="1.5" fill="#ededed" stroke="#000" stroke-width="5.5" stroke-linejoin="round"/>
<rect x="1593.9" y="2713.2" width="35.0" height="34.5" fill="#a6a6a6"/>
<rect x="1906.0" y="2706.4" width="48.6" height="48.0" rx="1.5" fill="#e5e5e5" stroke="#000" stroke-width="5.5" stroke-linejoin="round"/>
<rect x="1912.7" y="2713.2" width="35.1" height="34.5" fill="#7f7f7f"/>
<text x="580.4" y="2753.1" font-size="70" fill="#595959" textLength="86.4" lengthAdjust="spacingAndGlyphs">R1</text>
<text x="801.8" y="2753.1" font-size="70" fill="#595959" textLength="87.4" lengthAdjust="spacingAndGlyphs">P8</text>
<text x="1022.0" y="2753.1" font-size="70" fill="#595959" textLength="183.8" lengthAdjust="spacingAndGlyphs">R1+H</text>
<text x="1340.7" y="2753.1" font-size="70" fill="#595959" textLength="181.9" lengthAdjust="spacingAndGlyphs">P8+H</text>
<text x="1656.2" y="2753.1" font-size="70" fill="#595959" textLength="182.0" lengthAdjust="spacingAndGlyphs">P8+G</text>
<text x="1972.5" y="2753.1" font-size="70" fill="#595959" textLength="166.5" lengthAdjust="spacingAndGlyphs">P8+F</text>
</svg>
</body></html>
